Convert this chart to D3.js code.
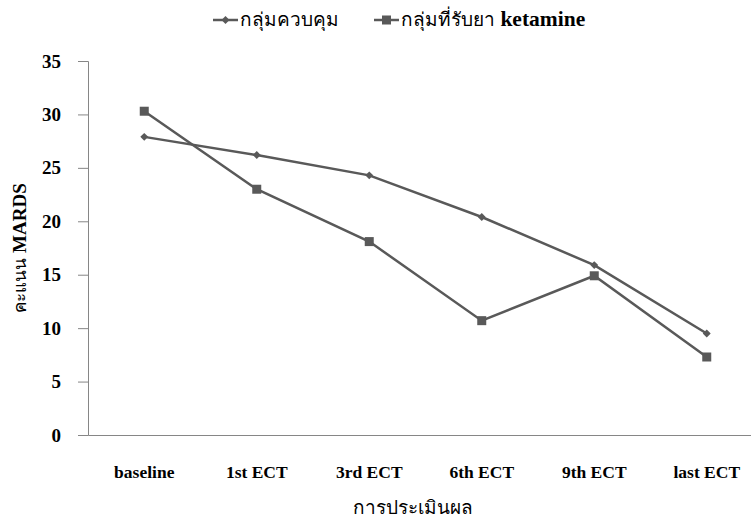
<!DOCTYPE html>
<html><head><meta charset="utf-8">
<script src="https://cdn.jsdelivr.net/npm/d3@7"></script>
<style>body{margin:0;background:#fff}svg{display:block}</style>
</head><body>
<svg id="c" width="751" height="520"></svg>
<script>
const categories = ["baseline","1st ECT","3rd ECT","6th ECT","9th ECT","last ECT"];
const controlValues = [27.9, 26.2, 24.3, 20.4, 15.9, 9.5];
const ketamineValues = [30.3, 23.0, 18.1, 10.7, 14.9, 7.3];
const yTicks = [0,5,10,15,20,25,30,35];
const seriesNames = ["กลุ่มควบคุม","กลุ่มที่รับยา ketamine"];

const svg = d3.select("#c");
const lineColor = "#595959", axisColor = "#868686";
const serif = "'Liberation Serif','Times New Roman',serif";
const thai = "'Noto Sans','DejaVu Sans',sans-serif";

const x = d3.scaleBand().domain(categories).range([88, 763]);
const y = d3.scaleLinear().domain([0,35]).range([435, 61]);

// y axis
const ya = svg.append("g").attr("transform","translate(88,0)")
  .call(d3.axisLeft(y).tickValues(yTicks).tickSize(10).tickPadding(17));
ya.select(".domain").attr("stroke",axisColor);
ya.selectAll(".tick line").attr("stroke",axisColor);
ya.selectAll("text").attr("font-family",serif).attr("font-weight","bold").attr("font-size",19).attr("fill","#000");

// x axis
const xa = svg.append("g").attr("transform","translate(0,435)")
  .call(d3.axisBottom(x).tickSize(0).tickPadding(31).tickSizeOuter(0));
xa.select(".domain").attr("stroke",axisColor);
xa.selectAll("text").attr("font-family",serif).attr("font-weight","bold").attr("font-size",17.5).attr("fill","#000");

const cx = d => x(d) + x.bandwidth()/2;
const line = d3.line().x((d,i)=>cx(categories[i])).y(d=>y(d));

function drawSeries(vals, marker){
  svg.append("path").datum(vals).attr("d",line).attr("fill","none")
    .attr("stroke",lineColor).attr("stroke-width",2.5);
  vals.forEach((v,i)=>marker(cx(categories[i]), y(v)));
}
const diamond = (px,py)=>svg.append("path").attr("d",d3.symbol(d3.symbolDiamond2 || d3.symbolDiamond, 40)())
  .attr("transform",`translate(${px},${py})`).attr("fill",lineColor);
const square = (px,py)=>svg.append("rect").attr("x",px-4.5).attr("y",py-4.5).attr("width",9).attr("height",9).attr("fill",lineColor);

drawSeries(controlValues, diamond);
drawSeries(ketamineValues, square);

// legend
function legendItem(x0, name, marker){
  svg.append("line").attr("x1",x0).attr("x2",x0+25).attr("y1",20).attr("y2",20)
    .attr("stroke",lineColor).attr("stroke-width",2.5);
  marker(x0+12.5, 20);
  const t = svg.append("text").attr("x",x0+27).attr("y",26).attr("font-size",19).attr("fill","#000");
  const parts = name.split(" ");
  t.append("tspan").attr("font-family",thai).text(parts[0]);
  if(parts[1]) t.append("tspan").attr("font-family",serif).attr("font-weight","bold").attr("font-size",21.5).text(" "+parts[1]);
}
legendItem(213, seriesNames[0], diamond);
legendItem(374, seriesNames[1], square);

// axis titles
svg.append("text").attr("x",413).attr("y",514).attr("text-anchor","middle")
  .attr("font-family",thai).attr("font-size",19).attr("fill","#000").text("การประเมินผล");
const yt = svg.append("text").attr("transform","translate(26,248) rotate(-90)").attr("text-anchor","middle")
  .attr("font-size",17).attr("fill","#000");
yt.append("tspan").attr("font-family",thai).text("คะแนน");
yt.append("tspan").attr("font-family",serif).attr("font-weight","bold").attr("font-size",19).text(" MARDS");
</script>
</body></html>
